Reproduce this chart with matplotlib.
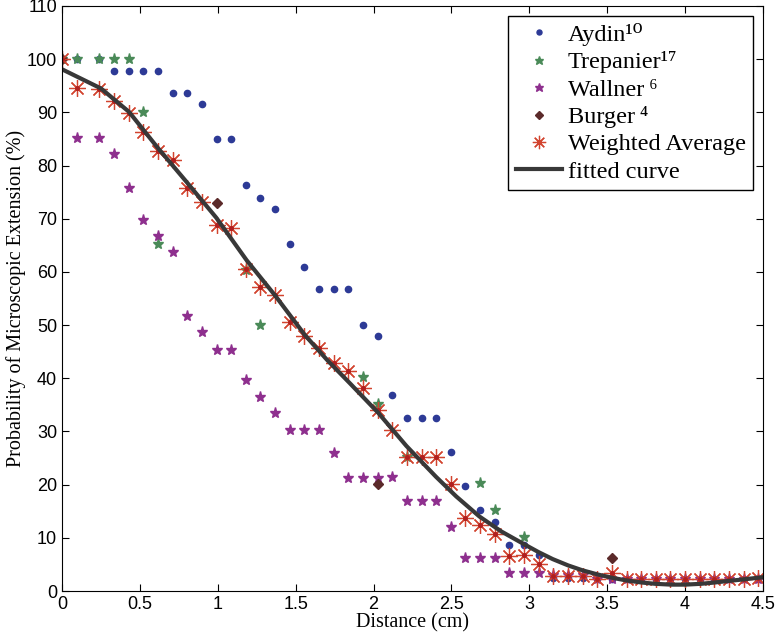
import matplotlib
matplotlib.use('Agg')
import matplotlib.pyplot as plt

# distance grid (cm)
x_avg = [0, 0.094, 0.240, 0.334, 0.428, 0.522, 0.616, 0.710, 0.804, 0.898, 0.992, 1.086,
         1.180, 1.274, 1.368, 1.462, 1.556, 1.650, 1.744, 1.838, 1.932, 2.026, 2.120,
         2.214, 2.308, 2.402, 2.496, 2.590, 2.684, 2.778, 2.872, 2.966, 3.060, 3.154,
         3.248, 3.342, 3.436, 3.530, 3.624, 3.718, 3.812, 3.906, 4.000, 4.094, 4.188,
         4.282, 4.376, 4.470]
y_avg = [100, 94.5, 94.3, 92.1, 89.8, 86.3, 82.8, 81.0, 75.8, 73.2, 68.8, 68.2,
         60.5, 57.2, 55.6, 50.5, 47.9, 45.6, 42.9, 41.4, 38.1, 34.1, 30.3,
         25.2, 25.2, 25.2, 20.2, 13.8, 12.4, 10.7, 6.5, 6.8, 5.1, 2.9,
         2.9, 2.9, 2.3, 3.3, 2.3, 2.3, 2.3, 2.3, 2.3, 2.3, 2.3,
         2.3, 2.3, 2.5]

x_aydin = [0, 0.094, 0.240, 0.334, 0.428, 0.522, 0.616, 0.710, 0.804, 0.898, 0.992, 1.086,
           1.180, 1.274, 1.368, 1.462, 1.556, 1.650, 1.744, 1.838, 1.932, 2.026, 2.120,
           2.214, 2.308, 2.402, 2.496, 2.590, 2.684, 2.778, 2.872, 2.966, 3.060, 3.154,
           3.248, 3.342, 3.436, 3.530, 3.624, 3.718, 3.812, 3.906, 4.000, 4.094, 4.188,
           4.282, 4.376, 4.470]
y_aydin = [100, 100, 100, 97.8, 97.8, 97.8, 97.8, 93.7, 93.7, 91.5, 85.0, 85.0,
           76.3, 73.9, 71.8, 65.2, 61.0, 56.7, 56.7, 56.7, 50.0, 47.9, 36.8,
           32.5, 32.5, 32.5, 26.1, 19.7, 15.3, 13.0, 8.7, 8.7, 6.8, 2.4,
           2.4, 2.4, 2.2, 2.2, 2.2, 2.2, 2.2, 2.2, 2.2, 2.2, 2.2,
           2.2, 2.2, 2.2]

x_trep = [0, 0.094, 0.240, 0.334, 0.428, 0.522, 0.616, 1.180, 1.274, 1.932, 2.026,
          2.214, 2.684, 2.778, 2.966]
y_trep = [100, 100, 100, 100, 100, 90.0, 65.2, 60.3, 50.0, 40.3, 35.2,
          25.2, 20.3, 15.3, 10.1]

x_wall = [0.094, 0.240, 0.334, 0.428, 0.522, 0.616, 0.710, 0.804, 0.898, 0.992, 1.086,
          1.180, 1.274, 1.368, 1.462, 1.556, 1.650, 1.744, 1.838, 1.932, 2.026, 2.120,
          2.214, 2.308, 2.402, 2.496, 2.590, 2.684, 2.778, 2.872, 2.966, 3.060, 3.154,
          3.248, 3.342, 3.436, 3.530, 3.624, 3.718, 3.812, 3.906, 4.000, 4.094, 4.188,
          4.282, 4.376, 4.470]
y_wall = [85.1, 85.1, 82.1, 75.8, 69.8, 66.7, 63.8, 51.7, 48.7, 45.4, 45.4,
          39.6, 36.5, 33.5, 30.3, 30.3, 30.3, 26.0, 21.3, 21.3, 21.3, 21.4,
          17.0, 17.0, 17.0, 12.0, 6.2, 6.2, 6.2, 3.3, 3.3, 3.3, 3.0,
          3.0, 3.0, 2.3, 2.3, 2.3, 2.3, 2.3, 2.3, 2.3, 2.3, 2.3,
          2.3, 2.3, 2.3]

x_burger = [0, 0.992, 2.026, 3.530]
y_burger = [100, 73.0, 20.2, 6.2]

# fitted curve
x_fit = [0, 0.25, 0.43, 0.61, 0.80, 0.99, 1.185, 1.367, 1.56, 1.70, 1.85, 2.03, 2.21,
         2.40, 2.53, 2.68, 2.82, 2.96, 3.06, 3.15, 3.25, 3.34, 3.44, 3.53, 3.62, 3.72,
         3.81, 3.91, 4.00, 4.10, 4.19, 4.28, 4.38, 4.50]
y_fit = [98.1, 94.5, 90.1, 83.5, 76.9, 70.2, 62.2, 55.6, 48.1, 43.5, 39.0, 33.5, 27.3,
         21.5, 17.8, 14.0, 11.2, 8.9, 7.3, 6.0, 4.8, 3.9, 3.1, 2.5, 2.0, 1.6,
         1.35, 1.2, 1.2, 1.35, 1.6, 1.9, 2.2, 2.6]

series_labels = ['Aydin\u00b9\u2070', 'Trepanier\u00b9\u2077', 'Wallner\u2009\u2076',
                 'Burger\u2009\u2074', 'Weighted Average', 'fitted curve']

xtick_vals = [0, 0.5, 1, 1.5, 2, 2.5, 3, 3.5, 4, 4.5]
xtick_labels = ['0', '0.5', '1', '1.5', '2', '2.5', '3', '3.5', '4', '4.5']
ytick_vals = list(range(0, 111, 10))

fig = plt.figure(figsize=(7.77, 6.37), dpi=100)
ax = fig.add_axes([0.0798, 0.0722, 0.9022, 0.9184])

ax.plot(x_aydin, y_aydin, 'o', color='#2d3a96', ms=4.5, ls='none', label=series_labels[0])
ax.plot(x_trep, y_trep, '*', color='#4a8a58', ms=8, ls='none', label=series_labels[1])
ax.plot(x_wall, y_wall, '*', color='#8e2f8e', ms=8, ls='none', label=series_labels[2])
ax.plot(x_burger, y_burger, 'D', color='#5b2a2a', ms=5.5, ls='none', label=series_labels[3])
ax.plot(x_avg, y_avg, marker=(8, 2, 0), color='#d2442f', ms=12, mew=0.9, ls='none',
        label=series_labels[4])
ax.plot(x_avg, y_avg, 'o', color='#b02020', ms=2.5, ls='none')
ax.plot(x_fit, y_fit, '-', color='#383838', lw=3, label=series_labels[5])

ax.set_xlim(0, 4.5)
ax.set_ylim(0, 110)
ax.set_xticks(xtick_vals)
ax.set_xticklabels(xtick_labels)
ax.set_yticks(ytick_vals)
ax.tick_params(direction='in', top=True, right=True, length=5, labelsize=13)
for lab in ax.get_xticklabels() + ax.get_yticklabels():
    lab.set_family('Liberation Sans')

ax.set_xlabel('Distance (cm)', family='Liberation Serif', fontsize=14.5, labelpad=0)
ax.set_ylabel('Probability of Microscopic Extension (%)', family='Liberation Serif',
              fontsize=14.5, labelpad=1)

leg = ax.legend(loc='upper right',
                prop={'family': ['Liberation Serif', 'STIXGeneral', 'DejaVu Serif'],
                      'size': 17.5},
                fancybox=False, edgecolor='black', framealpha=1, labelspacing=0.22,
                handlelength=1.9, handletextpad=0.25, borderpad=0.3,
                borderaxespad=0.4, markerscale=0.8)
leg.get_frame().set_linewidth(1)

fig.savefig('out.png', dpi=100)
